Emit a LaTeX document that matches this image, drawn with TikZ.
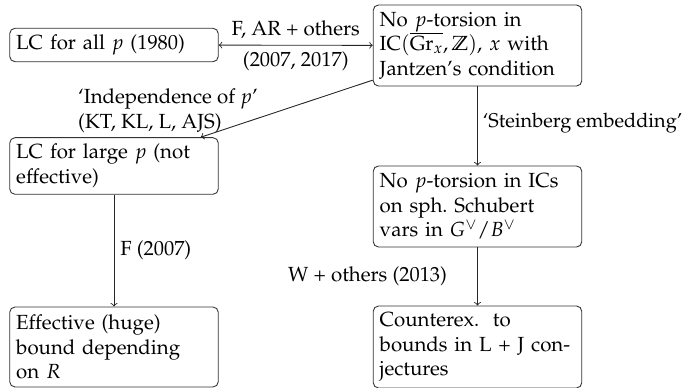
\documentclass[tikz,border=0pt]{standalone}
\usepackage[T1]{fontenc}
\usepackage{mathpazo}
\usetikzlibrary{calc}
\begin{document}
\begin{tikzpicture}[x=0.5625pt,y=-0.5625pt,
  every node/.style={font=\fontsize{11.5pt}{13.8pt}\selectfont},
  box/.style={draw=black!80, rounded corners=3pt, line width=0.5pt, align=left,
    text width=110pt, inner sep=3.66pt},
  lbl/.style={inner sep=3.3pt},
  arr/.style={->, line width=0.5pt, draw=black!85}]
\useasboundingbox (0,0) rectangle (683,388);
\node[box, minimum height=18pt] (A) at (114,45) {LC for all $p$ (1980)};
\node[box, minimum height=45.6pt] (B) at (477.5,45.5) {No $p$-torsion in\\ IC$(\overline{\mathrm{Gr}_x},\mathbb{Z})$, $x$ with\\ Jantzen's condition};
\node[box, minimum height=31.5pt] (C) at (114,166) {LC for large $p$ (not\\ effective)};
\node[box, minimum height=45.6pt] (D) at (477.5,206.5) {No $p$-torsion in ICs\\ on sph.\ Schubert\\ vars in $G^{\vee}/B^{\vee}$};
\node[box, minimum height=45pt] (E) at (114,347) {Effective (huge)\\ bound depending\\ on $R$};
\node[box, minimum height=45pt] (F) at (477.5,347) {Counterex.\ \ to\\ bounds in L + J con-\\ jectures};
\draw[arr,<->] (A) -- node[lbl,above] (l1) {F, AR + others} node[lbl,below] (l2) {(2007, 2017)} (B);
\draw[arr] (B) -- (C);
\node[lbl, align=left, anchor=west] (l3) at (72,110.5) {`Independence of $p$'\\ (KT, KL, L, AJS)};
\draw[arr] (B) -- node[lbl,right,inner sep=2.8pt,yshift=1.7pt,font=\fontsize{11.2pt}{13.8pt}\selectfont] (l4) {`Steinberg embedding'} (D);
\draw[arr] (C) -- node[lbl,right] (l5) {F (2007)} (E);
\draw[arr] (D) -- node[lbl,left=13.6pt] (l6) {W + others (2013)} (F);
\end{tikzpicture}
\end{document}
